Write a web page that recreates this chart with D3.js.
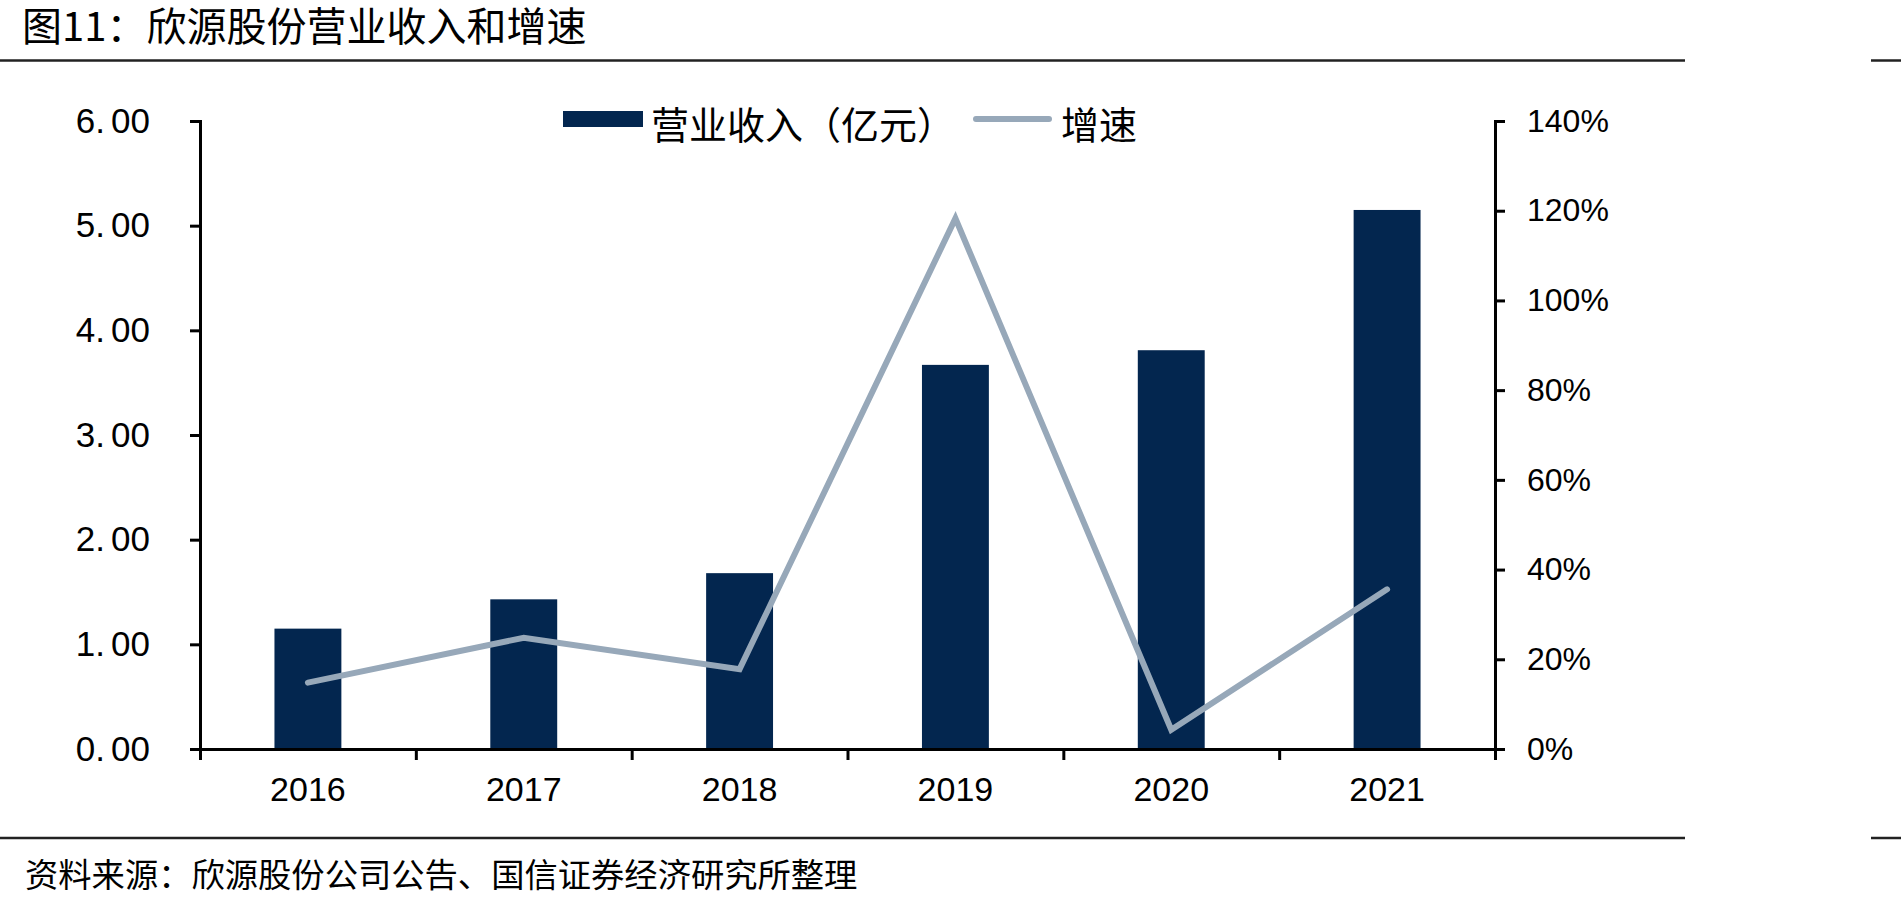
<html>

<head>
    <style>
        body {
            margin: 0;
            background-color: #ffffff;
            font-family: "Noto Sans CJK SC", "Liberation Sans", sans-serif;
        }

        svg { display: block; }

        .ejes text {
            font-family: "Liberation Sans", Arial, sans-serif;
            fill: #000000;
        }
    </style>

    <script src="https://cdn.jsdelivr.net/npm/d3@7/dist/d3.min.js"></script>
</head>

<body>
    <svg id="Grafico"></svg>

<script>
    // datos
    const titulo = "图11：欣源股份营业收入和增速";
    const fuente = "资料来源：欣源股份公司公告、国信证券经济研究所整理";
    const anios = ["2016", "2017", "2018", "2019", "2020", "2021"];
    const ingresos = [1.15, 1.43, 1.68, 3.67, 3.81, 5.15];      // 亿元
    const crecimiento = [0.148, 0.248, 0.178, 1.183, 0.043, 0.356];
    const ticksIzquierda = [0, 1, 2, 3, 4, 5, 6];
    const ticksDerecha = [0, 0.2, 0.4, 0.6, 0.8, 1.0, 1.2, 1.4];
    const leyenda = ["营业收入（亿元）", "增速"];

    const colorBarra = "#03264f";
    const colorLinea = "#97a8b9";

    function configuracion() {
        let ancho = 1901;
        let alto = 908;
        let margenes = { top: 121, bottom: 159, left: 200, right: 406 };
        let contenedor = d3.select("#Grafico")
            .attr("width", ancho)
            .attr("height", alto);
        return { ancho, alto, margenes, contenedor };
    }

    function escalas(conf) {
        let { ancho, alto, margenes } = conf;
        let x = d3.scaleBand()
            .domain(anios)
            .range([margenes.left, ancho - margenes.right])
            .padding(0);
        // separadores entre categorias
        let xSep = d3.scaleLinear()
            .domain([0, anios.length])
            .range([margenes.left, ancho - margenes.right]);
        let yIzq = d3.scaleLinear()
            .domain([0, 6])
            .range([alto - margenes.bottom, margenes.top]);
        let yDer = d3.scaleLinear()
            .domain([0, 1.4])
            .range([alto - margenes.bottom, margenes.top]);
        return { x, xSep, yIzq, yDer };
    }

    function dibujarMarco(conf) {
        let { contenedor } = conf;
        contenedor.append("text")
            .attr("x", 22)
            .attr("y", 41)
            .attr("font-size", 40)
            .attr("fill", "#000")
            .text(titulo);

        [60.5, 838].forEach(y => {
            [[0, 1685], [1871, 1901]].forEach(seg => {
                contenedor.append("line")
                    .attr("x1", seg[0]).attr("x2", seg[1])
                    .attr("y1", y).attr("y2", y)
                    .attr("stroke", "#222")
                    .attr("stroke-width", 2.5);
            });
        });

        contenedor.append("text")
            .attr("x", 25)
            .attr("y", 887)
            .attr("font-size", 33.3)
            .attr("fill", "#000")
            .text(fuente);
    }

    function dibujarBarras(conf, esc) {
        let { contenedor } = conf;
        let { x, yIzq } = esc;
        let anchoBarra = x.bandwidth() * 0.31;
        contenedor.append("g").selectAll("rect")
            .data(anios.map((a, i) => ({ anio: a, valor: ingresos[i] })))
            .enter().append("rect")
            .attr("x", d => x(d.anio) + (x.bandwidth() - anchoBarra) / 2)
            .attr("width", anchoBarra)
            .attr("y", d => yIzq(d.valor))
            .attr("height", d => yIzq(0) - yIzq(d.valor))
            .attr("fill", colorBarra);
    }

    function dibujarLinea(conf, esc) {
        let { contenedor } = conf;
        let { x, yDer } = esc;
        let linea = d3.line()
            .x((d, i) => x(anios[i]) + x.bandwidth() / 2)
            .y(d => yDer(d));
        contenedor.append("path")
            .datum(crecimiento)
            .attr("d", linea)
            .attr("fill", "none")
            .attr("stroke", colorLinea)
            .attr("stroke-width", 6)
            .attr("stroke-linecap", "round")
            .attr("stroke-linejoin", "miter");
    }

    function dibujarEjes(conf, esc) {
        let { contenedor, ancho, alto, margenes } = conf;
        let { x, xSep, yIzq, yDer } = esc;
        let base = alto - margenes.bottom;

        let ejeIzq = contenedor.append("g").attr("class", "ejes")
            .attr("transform", `translate(${margenes.left},0)`)
            .call(d3.axisLeft(yIzq).tickValues(ticksIzquierda)
                .tickSize(10).tickPadding(40).tickFormat(d3.format(".2f")));
        // el punto decimal lleva un hueco a su derecha, como en el original
        ejeIzq.selectAll("text")
            .attr("font-size", 35)
            .each(function () {
                let t = d3.select(this);
                let txt = t.text();
                let p = txt.indexOf(".") + 1;
                t.text(null);
                t.append("tspan").text(txt.slice(0, p));
                t.append("tspan").attr("dx", 6).text(txt.slice(p));
            });

        let ejeDer = contenedor.append("g").attr("class", "ejes")
            .attr("transform", `translate(${ancho - margenes.right},0)`)
            .call(d3.axisRight(yDer).tickValues(ticksDerecha)
                .tickSize(10).tickPadding(22).tickFormat(d3.format(".0%")));
        ejeDer.selectAll("text").attr("font-size", 32);

        // separadores del eje x
        contenedor.append("g").attr("class", "ejes")
            .attr("transform", `translate(0,${base})`)
            .call(d3.axisBottom(xSep).ticks(anios.length).tickSize(11).tickFormat(""));

        let ejeX = contenedor.append("g").attr("class", "ejes")
            .attr("transform", `translate(0,${base})`)
            .call(d3.axisBottom(x).tickSize(0).tickPadding(28));
        ejeX.select(".domain").remove();
        ejeX.selectAll("text").attr("font-size", 34);

        contenedor.selectAll(".ejes path, .ejes line")
            .attr("stroke", "#000")
            .attr("stroke-width", 3);
    }

    function dibujarLeyenda(conf) {
        let { contenedor } = conf;
        let g = contenedor.append("g");
        g.append("rect")
            .attr("x", 563).attr("y", 111)
            .attr("width", 80).attr("height", 16)
            .attr("fill", colorBarra);
        g.append("text")
            .attr("x", 651).attr("y", 139)
            .attr("font-size", 38)
            .text(leyenda[0]);
        g.append("line")
            .attr("x1", 976).attr("x2", 1049)
            .attr("y1", 119).attr("y2", 119)
            .attr("stroke", colorLinea)
            .attr("stroke-width", 6)
            .attr("stroke-linecap", "round");
        g.append("text")
            .attr("x", 1061).attr("y", 139)
            .attr("font-size", 38)
            .text(leyenda[1]);
    }

    function dibujar() {
        let conf = configuracion();
        let esc = escalas(conf);
        dibujarMarco(conf);
        dibujarBarras(conf, esc);
        dibujarLinea(conf, esc);
        dibujarEjes(conf, esc);
        dibujarLeyenda(conf);
    }

    dibujar();
</script>
</body>
</html>
